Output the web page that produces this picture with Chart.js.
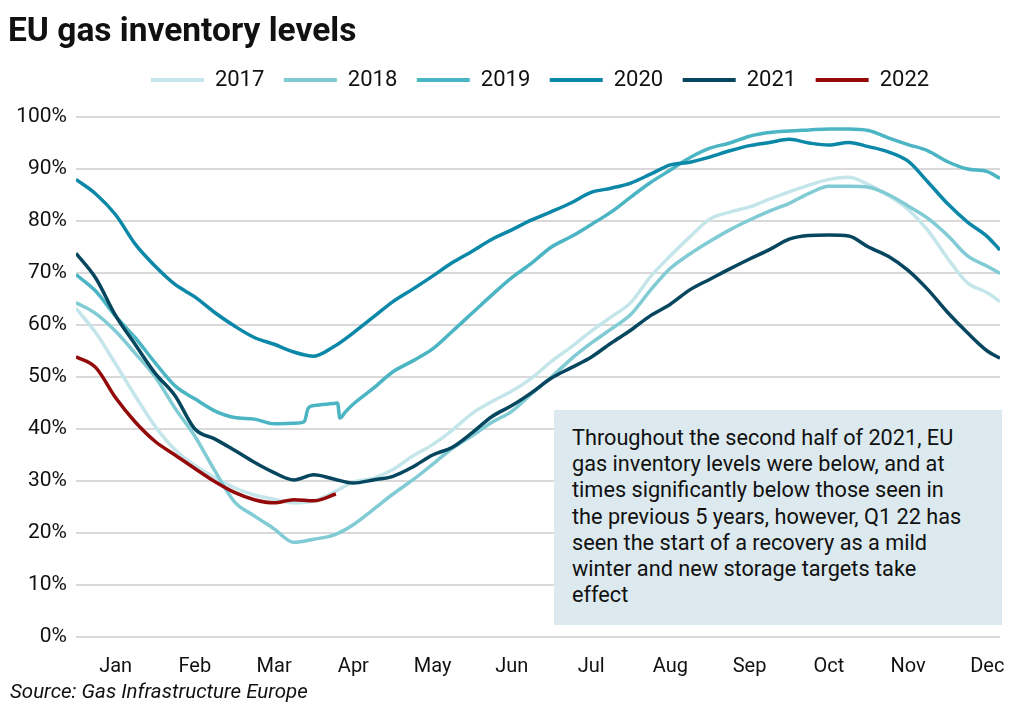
<!DOCTYPE html>
<html lang="en">
  <head>
    <meta charset="UTF-8" />
    <title>EU gas inventory levels</title>
    <script src="https://cdn.jsdelivr.net/npm/chart.js"></script>
    <style>
      body { margin: 0; background: #fff; font-family: Roboto, "Noto Sans", sans-serif; color: #111; }
      #wrap { position: relative; width: 1035px; height: 712px; overflow: hidden; }
      #gas-chart { position: absolute; left: 0; top: 0; }
      #title { position: absolute; left: 8px; top: 13px; font-size: 33.5px; line-height: 1; font-weight: 700; }
      #source { position: absolute; left: 10px; top: 681px; font-size: 20.5px; line-height: 1; font-style: italic; }
      #note {
        position: absolute; left: 554px; top: 410px; width: 448px; height: 215px;
        box-sizing: border-box; padding: 15px 0 0 18px;
        background: #dce9ee; font-size: 21.7px; line-height: 26.2px; white-space: nowrap;
      }
    </style>
  </head>

  <body>
    <div id="wrap">
      <canvas id="gas-chart" width="1035" height="712"></canvas>
      <div id="title">EU gas inventory levels</div>
      <div id="note">
        Throughout the second half of 2021, EU<br />
        gas inventory levels were below, and at<br />
        times significantly below those seen in<br />
        the previous 5 years, however, Q1 22 has<br />
        seen the start of a recovery as a mild<br />
        winter and new storage targets take<br />
        effect
      </div>
      <div id="source">Source: Gas Infrastructure Europe</div>
    </div>

    <script>
      // x positions in months from 1 Jan (weekly steps)
      const weeks = [0, 0.25, 0.5, 0.75, 1, 1.25, 1.5, 1.75, 2, 2.25, 2.5, 2.75, 3, 3.25, 3.5, 3.75,
        4, 4.25, 4.5, 4.75, 5, 5.25, 5.5, 5.75, 6, 6.25, 6.5, 6.75, 7, 7.25, 7.5, 7.75,
        8, 8.25, 8.5, 8.75, 9, 9.25, 9.5, 9.75, 10, 10.25, 10.5, 10.75, 11, 11.25, 11.5, 11.66];
      const monthLabels = ["Jan", "Feb", "Mar", "Apr", "May", "Jun", "Jul", "Aug", "Sep", "Oct", "Nov", "Dec"];
      const years = ["2017", "2018", "2019", "2020", "2021", "2022"];

      // storage level, % full
      const y2017 = [63.2, 58.5, 52.5, 46.3, 40.5, 36.0, 33.0, 30.7, 28.7, 27.3, 26.5, 25.8, 26.2, 27.8, 29.8, 30.5,
        32.2, 34.8, 37.0, 39.8, 43.0, 45.3, 47.3, 49.8, 53.0, 55.8, 58.8, 61.5, 64.3, 69.3, 73.3, 77.0,
        80.4, 81.7, 82.7, 84.2, 85.6, 86.9, 88.0, 88.4, 87.0, 84.9, 82.2, 78.2, 72.8, 68.1, 66.2, 64.5];
      const y2018 = [64.3, 62.2, 58.8, 54.5, 50.0, 44.0, 38.6, 32.0, 26.0, 23.3, 20.8, 18.2, 18.8, 19.6, 21.6, 24.5,
        27.5, 30.2, 33.2, 36.3, 38.7, 41.3, 43.4, 46.8, 50.0, 53.5, 56.5, 59.2, 62.0, 66.7, 70.9, 73.7,
        76.1, 78.3, 80.2, 81.9, 83.4, 85.3, 86.7, 86.7, 86.5, 85.1, 82.9, 80.5, 77.2, 73.3, 71.3, 69.9];
      const y2019 = [69.7, 66.5, 61.7, 57.5, 52.7, 48.3, 45.8, 43.5, 42.2, 41.9, 41.0, 41.1, 44.5, 44.9, 44.8, 47.8,
        51.0, 53.1, 55.4, 58.8, 62.3, 65.8, 69.1, 71.9, 75.0, 77.0, 79.3, 81.7, 84.6, 87.4, 89.8, 92.2,
        94.0, 95.0, 96.3, 97.0, 97.3, 97.5, 97.7, 97.7, 97.4, 96.0, 94.7, 93.5, 91.4, 90.0, 89.5, 88.2];
      // early-April jump and drop in 2019
      const jump2019 = [[2.88, 41.4], [2.93, 44.0], [3.3, 45.0], [3.33, 42.1], [3.4, 43.3]];
      const y2020 = [88.0, 85.2, 81.2, 75.5, 71.3, 67.8, 65.4, 62.4, 59.8, 57.6, 56.3, 54.8, 54.0, 55.8, 58.5, 61.5,
        64.5, 66.9, 69.4, 72.0, 74.2, 76.5, 78.3, 80.2, 81.8, 83.5, 85.5, 86.3, 87.3, 89.0, 90.8, 91.3,
        92.3, 93.5, 94.5, 95.1, 95.7, 95.0, 94.6, 95.1, 94.3, 93.3, 91.5, 87.5, 83.3, 79.8, 77.0, 74.4];
      const y2021 = [73.8, 69.0, 61.8, 56.2, 50.7, 46.4, 40.0, 38.1, 35.9, 33.6, 31.6, 30.2, 31.2, 30.4, 29.6, 30.2,
        30.9, 32.7, 35.0, 36.5, 39.3, 42.4, 44.5, 47.0, 49.8, 51.8, 53.8, 56.5, 59.0, 61.8, 64.0, 66.8,
        68.8, 70.8, 72.7, 74.5, 76.5, 77.2, 77.3, 77.1, 75.0, 73.2, 70.5, 66.8, 62.4, 58.5, 55.0, 53.6];
      const x2022 = [0, 0.25, 0.5, 0.75, 1, 1.25, 1.5, 1.75, 2, 2.25, 2.5, 2.75, 3, 3.28];
      const y2022 = [53.9, 51.8, 46.0, 41.3, 37.6, 35.0, 32.4, 29.9, 27.8, 26.4, 25.8, 26.4, 26.2, 27.5];

      const colors = ["#c4e6ea", "#80cbd4", "#4bb5c4", "#0b87a8", "#06475f", "#940a0a"];
      const fontFamily = "Roboto, 'Noto Sans', sans-serif";

      const zip = (xs, ys) => xs.map((x, i) => ({ x: x, y: ys[i] }));
      const series = [
        zip(weeks, y2017),
        zip(weeks, y2018),
        zip(weeks, y2019).concat(jump2019.map(p => ({ x: p[0], y: p[1] }))).sort((a, b) => a.x - b.x),
        zip(weeks, y2020),
        zip(weeks, y2021),
        zip(x2022, y2022),
      ];

      const datasets = years.map((yr, i) => ({
        label: yr,
        data: series[i],
        borderColor: colors[i],
        backgroundColor: colors[i],
        borderWidth: 3.5,
        pointRadius: 0,
        fill: false,
        cubicInterpolationMode: "monotone",
        order: years.length - i,
      }));

      // legend: extra gap under it, and shifted right of the canvas centre
      const legendNudge = {
        id: "legendNudge",
        beforeInit(chart) {
          const fit = chart.legend.fit;
          chart.legend.fit = function () {
            fit.call(this);
            this.height += 16;
          };
        },
        afterLayout(chart) {
          chart.legend.left += 36;
          chart.legend.right += 36;
        },
      };

      new Chart(document.getElementById("gas-chart").getContext("2d"), {
        type: "line",
        data: { datasets },
        options: {
          responsive: false,
          animation: false,
          layout: { padding: { top: 49.5, left: 8, right: 35, bottom: 35 } },
          scales: {
            x: {
              type: "linear",
              min: 0,
              max: 11.66,
              grid: { display: false },
              border: { display: false },
              afterBuildTicks: (s) => {
                s.ticks = monthLabels.map((_, i) => ({ value: i + 0.5 }));
              },
              afterFit: (s) => { s.height = 40; },
              ticks: {
                callback: (v) => monthLabels[Math.round(v - 0.5)],
                autoSkip: false,
                maxRotation: 0,
                padding: 10,
                color: "#111",
                font: { family: fontFamily, size: 20 },
              },
            },
            y: {
              min: 0,
              max: 100,
              afterFit: (s) => { s.width = 68; },
              grid: { color: "#d9d9d9", lineWidth: 2, drawTicks: false },
              border: { display: false },
              ticks: {
                stepSize: 10,
                padding: 9,
                callback: (v) => v + "%",
                color: "#111",
                font: { family: fontFamily, size: 21 },
              },
            },
          },
          plugins: {
            legend: {
              labels: {
                boxWidth: 53,
                boxHeight: 4,
                padding: 19.5,
                color: "#111",
                font: { family: fontFamily, size: 22 },
                sort: (a, b) => a.datasetIndex - b.datasetIndex,
                generateLabels: (chart) =>
                  Chart.defaults.plugins.legend.labels.generateLabels(chart).map((l) => ({
                    ...l,
                    lineWidth: 0,
                    fillStyle: l.strokeStyle,
                  })),
              },
            },
            tooltip: { enabled: false },
          },
        },
        plugins: [legendNudge],
      });
    </script>
  </body>
</html>
